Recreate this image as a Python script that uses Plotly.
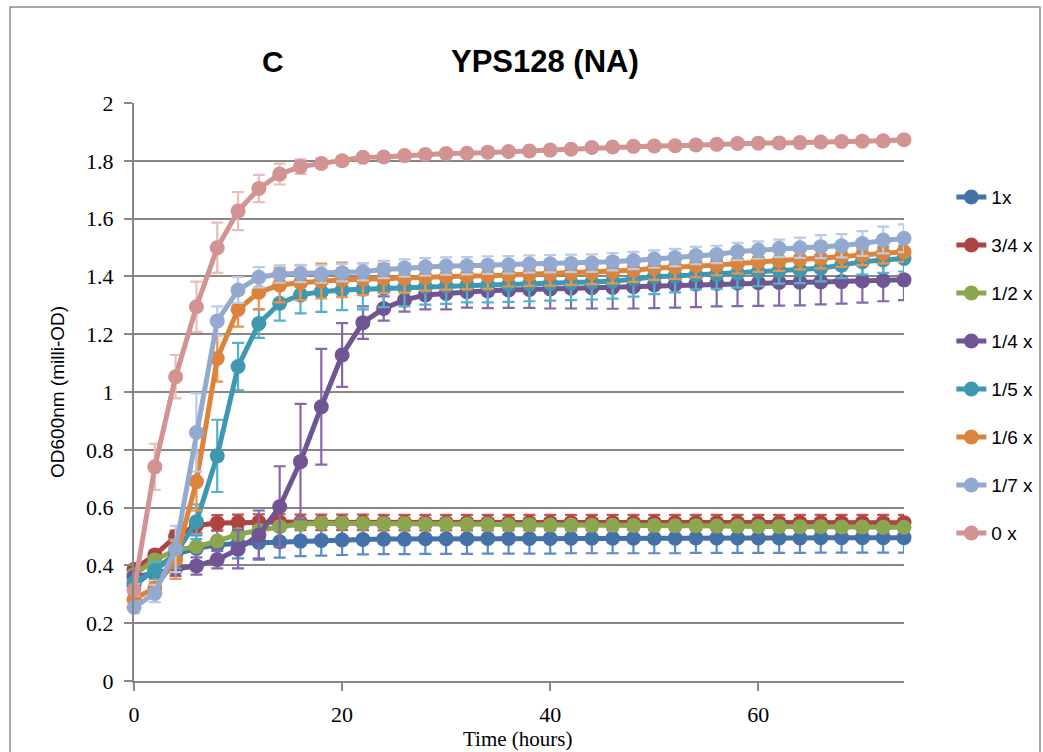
import plotly.graph_objects as go

# Sampling times (hours)
time_h = list(range(0, 76, 2))

series_names = ["1x", "3/4 x", "1/2 x", "1/4 x", "1/5 x", "1/6 x", "1/7 x", "0 x"]

od_1x = [0.330, 0.384, 0.439, 0.459, 0.471, 0.476, 0.479, 0.482, 0.484, 0.486,
         0.488, 0.490, 0.491, 0.491, 0.492, 0.492, 0.492, 0.493, 0.493, 0.493,
         0.493, 0.494, 0.494, 0.494, 0.494, 0.494, 0.494, 0.495, 0.495, 0.495,
         0.495, 0.495, 0.495, 0.496, 0.496, 0.496, 0.496, 0.496]
err_1x = [0.02, 0.03, 0.04, 0.045, 0.05, 0.052, 0.055, 0.055, 0.052, 0.052,
          0.052, 0.052, 0.052, 0.052, 0.052, 0.052, 0.052, 0.052, 0.052, 0.052,
          0.052, 0.052, 0.052, 0.052, 0.052, 0.052, 0.052, 0.052, 0.052, 0.052,
          0.052, 0.052, 0.052, 0.052, 0.052, 0.052, 0.052, 0.052]

od_3_4x = [0.386, 0.436, 0.500, 0.538, 0.547, 0.549, 0.550, 0.550, 0.549, 0.549,
           0.549, 0.549, 0.548, 0.548, 0.548, 0.548, 0.548, 0.548, 0.548, 0.548,
           0.548, 0.548, 0.548, 0.548, 0.548, 0.548, 0.548, 0.548, 0.548, 0.548,
           0.548, 0.548, 0.548, 0.548, 0.548, 0.548, 0.548, 0.548]
err_3_4x = [0.01, 0.015, 0.02, 0.025, 0.027, 0.027, 0.027, 0.027, 0.027, 0.027,
            0.027, 0.027, 0.027, 0.027, 0.027, 0.027, 0.027, 0.027, 0.027, 0.027,
            0.027, 0.027, 0.027, 0.027, 0.027, 0.027, 0.027, 0.027, 0.027, 0.027,
            0.027, 0.027, 0.027, 0.027, 0.027, 0.027, 0.027, 0.027]

od_1_2x = [0.368, 0.419, 0.453, 0.465, 0.484, 0.507, 0.522, 0.534, 0.543, 0.546,
           0.546, 0.545, 0.544, 0.544, 0.543, 0.543, 0.542, 0.542, 0.541, 0.541,
           0.540, 0.540, 0.539, 0.539, 0.538, 0.538, 0.537, 0.537, 0.536, 0.536,
           0.535, 0.535, 0.534, 0.534, 0.533, 0.533, 0.532, 0.532]
err_1_2x = [0.01] * 38

od_1_4x = [0.360, 0.375, 0.388, 0.398, 0.420, 0.456, 0.505, 0.603, 0.759, 0.949,
           1.128, 1.240, 1.289, 1.318, 1.336, 1.341, 1.347, 1.350, 1.353, 1.355,
           1.357, 1.359, 1.361, 1.362, 1.364, 1.370, 1.372, 1.374, 1.376, 1.377,
           1.378, 1.379, 1.380, 1.381, 1.382, 1.384, 1.386, 1.388]
err_1_4x = [0.015, 0.015, 0.025, 0.03, 0.03, 0.066, 0.085, 0.14, 0.20, 0.20,
            0.11, 0.056, 0.042, 0.04, 0.05, 0.055, 0.055, 0.06, 0.062, 0.064,
            0.068, 0.07, 0.072, 0.074, 0.075, 0.08, 0.08, 0.08, 0.08, 0.08,
            0.08, 0.08, 0.08, 0.078, 0.076, 0.075, 0.072, 0.07]

od_1_5x = [0.340, 0.382, 0.440, 0.551, 0.779, 1.088, 1.237, 1.307, 1.336, 1.347,
           1.353, 1.356, 1.359, 1.361, 1.364, 1.367, 1.370, 1.370, 1.372, 1.374,
           1.376, 1.378, 1.380, 1.383, 1.390, 1.399, 1.401, 1.405, 1.407, 1.411,
           1.416, 1.420, 1.422, 1.428, 1.439, 1.451, 1.457, 1.462]
err_1_5x = [0.02, 0.03, 0.05, 0.06, 0.125, 0.082, 0.05, 0.06, 0.064, 0.07,
            0.07, 0.07, 0.065, 0.065, 0.062, 0.062, 0.06, 0.06, 0.06, 0.06,
            0.06, 0.06, 0.06, 0.06, 0.06, 0.06, 0.056, 0.05, 0.05, 0.05,
            0.05, 0.045, 0.045, 0.045, 0.045, 0.045, 0.045, 0.045]

od_1_6x = [0.283, 0.322, 0.419, 0.690, 1.116, 1.286, 1.345, 1.370, 1.378, 1.384,
           1.388, 1.390, 1.393, 1.394, 1.396, 1.399, 1.401, 1.402, 1.405, 1.407,
           1.408, 1.411, 1.413, 1.416, 1.421, 1.428, 1.431, 1.437, 1.439, 1.445,
           1.451, 1.454, 1.459, 1.463, 1.468, 1.474, 1.480, 1.485]
err_1_6x = [0.02, 0.02, 0.066, 0.10, 0.08, 0.06, 0.06, 0.06, 0.06, 0.06,
            0.06, 0.055, 0.05, 0.05, 0.045, 0.045, 0.045, 0.045, 0.04, 0.04,
            0.04, 0.04, 0.04, 0.04, 0.04, 0.04, 0.04, 0.04, 0.035, 0.035,
            0.035, 0.035, 0.035, 0.035, 0.035, 0.035, 0.035, 0.035]

od_1_7x = [0.255, 0.303, 0.457, 0.860, 1.246, 1.353, 1.397, 1.408, 1.410, 1.408,
           1.413, 1.416, 1.424, 1.429, 1.433, 1.436, 1.437, 1.439, 1.440, 1.443,
           1.444, 1.445, 1.446, 1.451, 1.455, 1.460, 1.465, 1.472, 1.476, 1.486,
           1.491, 1.497, 1.499, 1.503, 1.506, 1.514, 1.526, 1.532]
err_1_7x = [0.02, 0.03, 0.08, 0.135, 0.05, 0.045, 0.035, 0.03, 0.03, 0.03,
            0.03, 0.03, 0.03, 0.03, 0.03, 0.03, 0.03, 0.03, 0.03, 0.03,
            0.03, 0.03, 0.03, 0.03, 0.03, 0.03, 0.03, 0.03, 0.03, 0.03,
            0.03, 0.03, 0.035, 0.04, 0.04, 0.043, 0.046, 0.048]

od_0x = [0.315, 0.741, 1.053, 1.295, 1.499, 1.626, 1.704, 1.754, 1.780, 1.791,
         1.800, 1.812, 1.813, 1.818, 1.822, 1.825, 1.826, 1.830, 1.832, 1.834,
         1.837, 1.840, 1.846, 1.848, 1.850, 1.851, 1.852, 1.855, 1.857, 1.860,
         1.861, 1.862, 1.863, 1.865, 1.867, 1.868, 1.869, 1.873]
err_0x = [0.02, 0.08, 0.075, 0.087, 0.087, 0.066, 0.047, 0.036, 0.025, 0.016,
          0.015, 0.01, 0.008, 0.008, 0.008, 0.008, 0.008, 0.008, 0.008, 0.008,
          0.008, 0.008, 0.008, 0.008, 0.008, 0.008, 0.008, 0.008, 0.008, 0.008,
          0.008, 0.008, 0.008, 0.008, 0.008, 0.008, 0.008, 0.008]

series_values = [od_1x, od_3_4x, od_1_2x, od_1_4x, od_1_5x, od_1_6x, od_1_7x, od_0x]
series_errors = [err_1x, err_3_4x, err_1_2x, err_1_4x, err_1_5x, err_1_6x, err_1_7x, err_0x]

line_colors = ["#4472A8", "#AE4441", "#8BA64F", "#6F5591", "#3F98AF",
               "#DC843C", "#93A9CF", "#D29393"]
error_colors = ["#5B8BC8", "#C55350", "#9CBD5E", "#8667AB", "#4FB3CC",
                "#F0924A", "#B8CCE8", "#E8BDBC"]

fig = go.Figure()
for name, vals, errs, lc, ec in zip(series_names, series_values, series_errors,
                                    line_colors, error_colors):
    fig.add_trace(go.Scatter(
        x=time_h, y=vals, name=name, mode="lines+markers",
        legendgroup=name,
        line=dict(color=lc, width=5),
        marker=dict(color=lc, size=15, symbol="circle"),
        error_y=dict(type="data", array=errs, visible=True,
                     color=ec, thickness=2.2, width=6),
        cliponaxis=False,
    ))

grid_color = "#878787"
serif = "Liberation Serif, Times New Roman, serif"
fig.update_layout(
    width=1043, height=752,
    margin=dict(l=134, r=139, t=103, b=71, autoexpand=False),
    paper_bgcolor="white", plot_bgcolor="white",
    font=dict(family="Liberation Sans, Arial, sans-serif", color="black"),
    showlegend=True,
    legend=dict(
        x=1.0615, xanchor="left", y=0.870, yanchor="top",
        traceorder="grouped", tracegroupgap=20.3,
        font=dict(size=19, family="Liberation Sans, Arial, sans-serif"),
        bgcolor="rgba(0,0,0,0)",
    ),
    xaxis=dict(
        range=[0, 74], tickvals=[0, 20, 40, 60],
        showgrid=False, zeroline=False,
        showline=True, linecolor=grid_color, linewidth=2,
        ticks="outside", ticklen=8, tickcolor=grid_color, tickwidth=1.5,
        tickfont=dict(size=22, family=serif),
        ticklabelstandoff=5,
    ),
    yaxis=dict(
        range=[0, 2], dtick=0.2, tick0=0,
        showgrid=True, gridcolor=grid_color, gridwidth=2,
        zeroline=False,
        showline=True, linecolor=grid_color, linewidth=2,
        ticks="outside", ticklen=8, tickcolor=grid_color, tickwidth=1.5,
        tickfont=dict(size=22, family=serif),
        ticklabelstandoff=6,
    ),
    annotations=[
        dict(text="<b>C</b>", x=0.181, y=1.071, xref="paper", yref="paper",
             xanchor="center", yanchor="middle",
             showarrow=False, font=dict(size=30)),
        dict(text="<b>YPS128 (NA)</b>", x=0.534, y=1.071, xref="paper", yref="paper",
             xanchor="center", yanchor="middle",
             showarrow=False, font=dict(size=31)),
        dict(text="OD600nm (milli-OD)", x=-0.1, y=0.5, xref="paper", yref="paper",
             xanchor="center", yanchor="middle",
             textangle=-90, showarrow=False, font=dict(size=19)),
        dict(text="Time (hours)", x=0.4987, y=-0.1, xref="paper", yref="paper",
             xanchor="center", yanchor="middle",
             showarrow=False, font=dict(size=21, family=serif)),
    ],
    shapes=[
        dict(type="rect", xref="paper", yref="paper",
             x0=-0.161, x1=1.1766, y0=-0.15, y1=1.166,
             line=dict(color="#8C8C8C", width=1.5), fillcolor="rgba(0,0,0,0)",
             layer="below"),
    ],
)

fig.write_html("out.html")
